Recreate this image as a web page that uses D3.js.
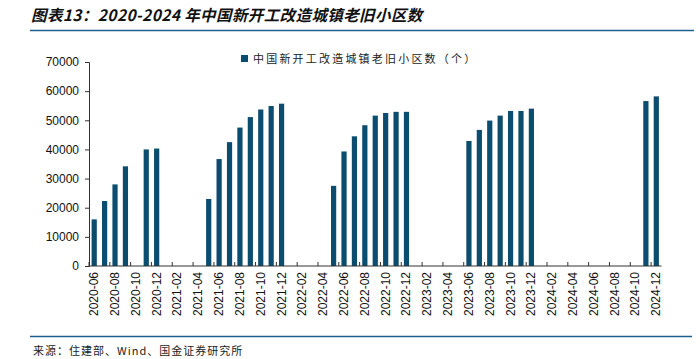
<!DOCTYPE html>
<html>
<head>
<meta charset="utf-8">
<script src="https://cdn.jsdelivr.net/npm/d3@7"></script>
<style>
  body { margin: 0; background: #fff; }
  svg { display: block; }
</style>
</head>
<body>
<div id="chart"></div>
<script>
// 月份（2020-06 至 2024-12）
const months = [
  '2020-06','2020-07','2020-08','2020-09','2020-10','2020-11','2020-12',
  '2021-01','2021-02','2021-03','2021-04','2021-05','2021-06','2021-07','2021-08','2021-09','2021-10','2021-11','2021-12',
  '2022-01','2022-02','2022-03','2022-04','2022-05','2022-06','2022-07','2022-08','2022-09','2022-10','2022-11','2022-12',
  '2023-01','2023-02','2023-03','2023-04','2023-05','2023-06','2023-07','2023-08','2023-09','2023-10','2023-11','2023-12',
  '2024-01','2024-02','2024-03','2024-04','2024-05','2024-06','2024-07','2024-08','2024-09','2024-10','2024-11','2024-12'
];

// 新开工改造城镇老旧小区数（个），累计值，缺失月份为 null
const values = [
  16000, 22300, 28000, 34200, null, 40000, 40300,
  null, null, null, null, 23000, 36700, 42500, 47500, 51100, 53700, 54900, 55700,
  null, null, null, null, 27500, 39300, 44500, 48300, 51600, 52500, 52900, 52900,
  null, null, null, null, null, 42900, 46700, 49900, 51600, 53200, 53200, 54000,
  null, null, null, null, null, null, null, null, null, null, 56600, 58200
];

const yTicks = [0, 10000, 20000, 30000, 40000, 50000, 60000, 70000];

const titleText = '图表13：2020-2024 年中国新开工改造城镇老旧小区数';
const legendText = '中国新开工改造城镇老旧小区数（个）';
const sourceText = '来源：住建部、Wind、国金证券研究所';

const W = 700, H = 359;
const barColor = '#0b4d6e';
const lineColor = '#1d5f8e';
const cjk = '"Noto Sans CJK SC", "Noto Sans", sans-serif';
const latin = '"Liberation Sans", Arial, sans-serif';

const data = months.map((m, i) => ({ month: m, value: values[i] }));

const svg = d3.select('#chart').append('svg')
  .attr('width', W)
  .attr('height', H);

// 标题
svg.append('text')
  .attr('x', 31)
  .attr('y', 21)
  .attr('font-family', cjk)
  .attr('font-size', 15.5)
  .attr('font-weight', 'bold')
  .attr('font-style', 'italic')
  .attr('letter-spacing', 0.4)
  .attr('fill', '#111')
  .text(titleText);

svg.append('line')
  .attr('x1', 30).attr('x2', 694)
  .attr('y1', 30.5).attr('y2', 30.5)
  .attr('stroke', lineColor)
  .attr('stroke-width', 1.5);

// 比例尺
const x = d3.scaleBand()
  .domain(months)
  .range([89, 661.5])
  .paddingInner(0.5)
  .paddingOuter(0.25);

const y = d3.scaleLinear()
  .domain([0, 70000])
  .range([266, 62]);

// 柱子
svg.append('g')
  .selectAll('rect')
  .data(data.filter(d => d.value != null))
  .join('rect')
  .attr('x', d => x(d.month))
  .attr('y', d => y(d.value))
  .attr('width', x.bandwidth())
  .attr('height', d => y(0) - y(d.value))
  .attr('fill', barColor);

// y 轴
const yAxis = svg.append('g')
  .attr('transform', 'translate(89,0)')
  .call(d3.axisLeft(y).tickValues(yTicks).tickFormat(d3.format('d'))
    .tickSize(4).tickSizeOuter(4).tickPadding(6));
yAxis.select('.domain').attr('stroke', '#333');
yAxis.selectAll('.tick line').attr('stroke', '#333');
yAxis.selectAll('text')
  .attr('font-family', latin)
  .attr('font-size', 12)
  .attr('fill', '#111');

// x 轴：刻度在每两个月的左边界，朝上
const step = x.step();
const xAxis = svg.append('g');
xAxis.append('line')
  .attr('x1', 89).attr('x2', 661.5)
  .attr('y1', 266).attr('y2', 266)
  .attr('stroke', '#333');
xAxis.selectAll('.xtick')
  .data(months.filter((m, i) => i % 2 === 0))
  .join('line')
  .attr('class', 'xtick')
  .attr('x1', d => x(d) + x.bandwidth() / 2 - step / 2)
  .attr('x2', d => x(d) + x.bandwidth() / 2 - step / 2)
  .attr('y1', 266).attr('y2', 262)
  .attr('stroke', '#333');
xAxis.selectAll('.xlabel')
  .data(months.filter((m, i) => i % 2 === 0))
  .join('text')
  .attr('class', 'xlabel')
  .attr('transform', d => `translate(${x(d) + x.bandwidth() / 2 + 4},272) rotate(-90)`)
  .attr('text-anchor', 'end')
  .attr('font-family', latin)
  .attr('font-size', 12)
  .attr('fill', '#111')
  .text(d => d);

// 图例
const legend = svg.append('g').attr('transform', 'translate(241,55)');
legend.append('rect')
  .attr('width', 7).attr('height', 7)
  .attr('y', 0)
  .attr('fill', barColor);
legend.append('text')
  .attr('x', 12)
  .attr('y', 8)
  .attr('font-family', cjk)
  .attr('font-size', 11)
  .attr('letter-spacing', 2.2)
  .attr('fill', '#222')
  .text(legendText);

// 底部分隔线与来源
svg.append('line')
  .attr('x1', 30).attr('x2', 692)
  .attr('y1', 336.5).attr('y2', 336.5)
  .attr('stroke', lineColor)
  .attr('stroke-width', 1.5);

svg.append('text')
  .attr('x', 33)
  .attr('y', 355)
  .attr('font-family', cjk)
  .attr('font-size', 11)
  .attr('letter-spacing', 1)
  .attr('fill', '#222')
  .text(sourceText);
</script>
</body>
</html>
